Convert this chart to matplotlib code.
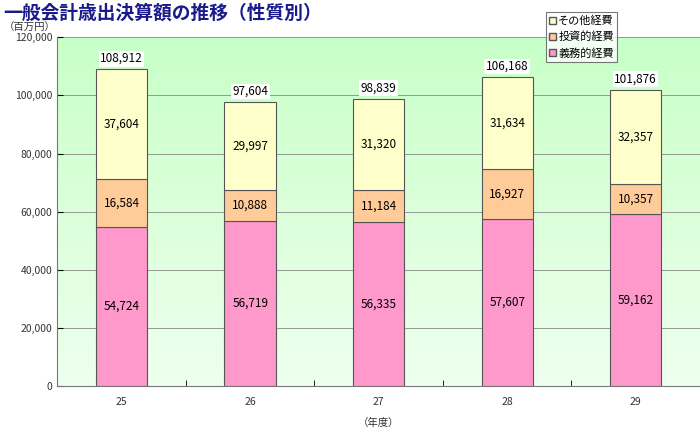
import matplotlib
matplotlib.use("Agg")
import matplotlib.pyplot as plt
import numpy as np

plt.rcParams['font.family'] = ['Noto Sans CJK JP', 'DejaVu Sans']

years = ['25', '26', '27', '28', '29']
gimu = [54724, 56719, 56335, 57607, 59162]
toshi = [16584, 10888, 11184, 16927, 10357]
sonota = [37604, 29997, 31320, 31634, 32357]
totals = [108912, 97604, 98839, 106168, 101876]
names = ['義務的経費', '投資的経費', 'その他経費']
colors = ['#FF99CC', '#FFCC99', '#FFFFCC']

fig = plt.figure(figsize=(7, 4.28), dpi=100)
ax = fig.add_axes([0.082, 0.098, 0.918, 0.815])
x = np.arange(len(years))
ax.imshow(np.linspace(0, 1, 100).reshape(-1, 1), cmap=matplotlib.colors.LinearSegmentedColormap.from_list('g', ['#EEFFEE', '#C8FFC8']),
          extent=[-0.5, 4.5, 0, 120000], origin='lower', aspect='auto', zorder=0)
w = 0.4
bottom = np.zeros(5)
for vals, c in zip([gimu, toshi, sonota], colors):
    ax.bar(x, vals, w, bottom=bottom, color=c, edgecolor='#555555', linewidth=0.8, zorder=2)
    for xi, b, v in zip(x, bottom, vals):
        ax.text(xi, b + v / 2, f'{v:,}', ha='center', va='center', fontsize=8.5, zorder=3)
    bottom += np.array(vals)
for xi, t in zip(x, totals):
    ax.text(xi, t + 1500, f'{t:,}', ha='center', va='bottom', fontsize=8.5, zorder=3,
            bbox=dict(facecolor='white', edgecolor='none', pad=1))
ax.set_xlim(-0.5, 4.5)
ax.set_ylim(0, 120000)
ax.set_yticks(range(0, 120001, 20000))
ax.set_yticklabels([f'{v:,}' for v in range(0, 120001, 20000)], fontsize=7.5, color='#333333')
ax.set_xticks(x)
ax.set_xticklabels(years, fontsize=7.5, color='#333333')
ax.set_xticks(np.arange(-0.5, 5, 1), minor=True)
ax.tick_params(axis='x', which='major', length=0, pad=8)
ax.tick_params(axis='x', which='minor', length=4, direction='in')
ax.tick_params(axis='y', length=4, direction='in')
ax.yaxis.grid(True, color='#888888', linewidth=0.6, zorder=1)
ax.set_axisbelow(True)
for s in ['top', 'right']:
    ax.spines[s].set_visible(False)
ax.spines['left'].set_color('#777777')
ax.spines['bottom'].set_color('#777777')
ax.set_xlabel('（年度）', fontsize=7.5, color='#333333', labelpad=8)
fig.text(0.005, 0.97, '一般会計歳出決算額の推移（性質別）', fontsize=13.5, fontweight='bold', color='#1a1a8c', va='center')
fig.text(0.005, 0.935, '（百万円）', fontsize=7.5, color='#333333', va='center')
from matplotlib.patches import Patch
handles = [Patch(facecolor=c, edgecolor='#555555') for c in colors[::-1]]
leg = fig.legend(handles, names[::-1], loc='upper left', bbox_to_anchor=(0.772, 0.985), fontsize=8,
                 frameon=True, fancybox=False, edgecolor='#555555', handlelength=0.6, handleheight=0.6,
                 handletextpad=0.2, borderpad=0.3, labelspacing=0.5)
leg.get_frame().set_linewidth(0.8)
fig.savefig('out.png', dpi=100)
